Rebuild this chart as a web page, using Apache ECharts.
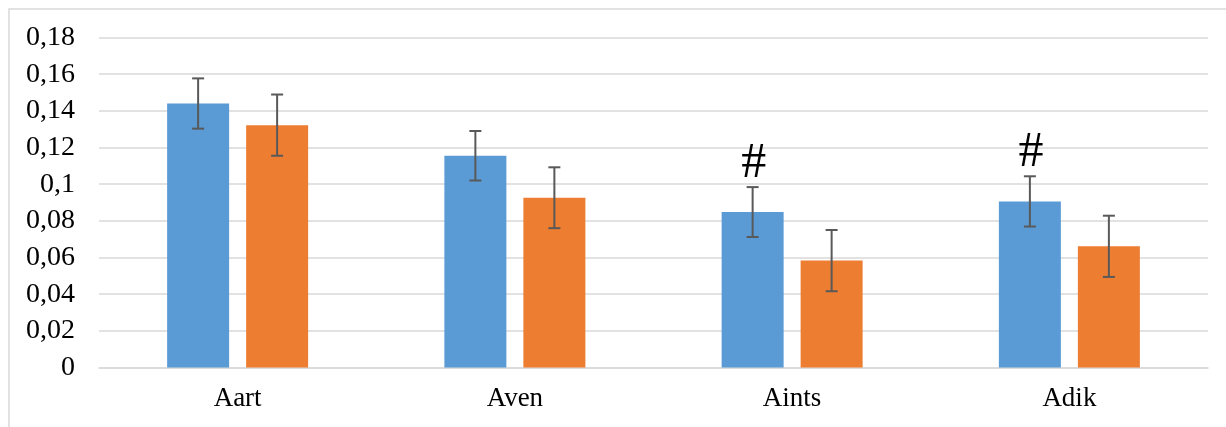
<!DOCTYPE html>
<html>
<head>
<meta charset="utf-8">
<script src="https://cdn.jsdelivr.net/npm/echarts@6/dist/echarts.min.js"></script>
<style>html,body{margin:0;padding:0;background:#fff}#c{width:1226px;height:427px}</style>
</head>
<body>
<div id="c"></div>
<script>
const categories = ['Aart', 'Aven', 'Aints', 'Adik'];
const seriesA = [0.144, 0.1155, 0.0848, 0.0906];
const seriesAErr = [0.0137, 0.0135, 0.0136, 0.0137];
const seriesB = [0.1322, 0.0926, 0.0583, 0.0661];
const seriesBErr = [0.0167, 0.0166, 0.0167, 0.0167];
const markersA = ['', '', '#', '#'];
const yTicks = { min: 0, max: 0.18, interval: 0.02 };

const FONT = '"Liberation Serif", "Times New Roman", serif';
const BAR_W = 62, BAR_GAP = 17;

const chart = echarts.init(document.getElementById('c'), null, { renderer: 'canvas' });

function errSeries(values, errs, markers, side) {
  return {
    type: 'custom',
    silent: true,
    z: 10,
    data: values.map((v, i) => [i, v, errs[i]]),
    renderItem: function (params, api) {
      const i = api.value(0), v = api.value(1), e = api.value(2);
      const off = side * (BAR_W + BAR_GAP) / 2;
      const top = api.coord([i, v + e]);
      const bot = api.coord([i, v - e]);
      const x = top[0] + off;
      const cap = 6;
      const st = { stroke: '#595959', lineWidth: 2 };
      const children = [
        { type: 'line', shape: { x1: x, y1: top[1], x2: x, y2: bot[1] }, style: st },
        { type: 'line', shape: { x1: x - cap, y1: top[1], x2: x + cap, y2: top[1] }, style: st },
        { type: 'line', shape: { x1: x - cap, y1: bot[1], x2: x + cap, y2: bot[1] }, style: st }
      ];
      const m = markers ? markers[params.dataIndex] : '';
      if (m) {
        children.push({
          type: 'text',
          style: { x: x + 1, y: top[1] + 2, text: m, fill: '#000', font: '50px ' + FONT, align: 'center', verticalAlign: 'bottom' }
        });
      }
      return { type: 'group', children };
    }
  };
}

chart.setOption({
  animation: false,
  backgroundColor: '#fff',
  graphic: [{
    type: 'rect', shape: { x: 9, y: 9, width: 1400, height: 600 },
    style: { fill: 'none', stroke: '#d9d9d9', lineWidth: 1.5 }, silent: true, z: -10
  }],
  grid: { left: 99, right: 18, top: 37.5, bottom: 59.5, containLabel: false },
  xAxis: {
    type: 'category',
    data: categories,
    axisLine: { show: true, lineStyle: { color: '#d9d9d9', width: 1.5 } },
    axisTick: { show: false },
    axisLabel: { color: '#000', fontFamily: FONT, fontSize: 27, margin: 18 }
  },
  yAxis: {
    type: 'value',
    min: yTicks.min, max: yTicks.max, interval: yTicks.interval,
    axisLine: { show: false },
    axisTick: { show: false },
    splitLine: { lineStyle: { color: '#d9d9d9', width: 1.5 } },
    axisLabel: {
      color: '#000', fontFamily: FONT, fontSize: 28, margin: 24,
      formatter: v => String(Number(v.toFixed(2))).replace('.', ',')
    }
  },
  series: [
    { type: 'bar', data: seriesA, barWidth: BAR_W, barGap: (BAR_GAP / BAR_W * 100) + '%', itemStyle: { color: '#5B9BD5' } },
    { type: 'bar', data: seriesB, barWidth: BAR_W, itemStyle: { color: '#ED7D31' } },
    errSeries(seriesA, seriesAErr, markersA, -1),
    errSeries(seriesB, seriesBErr, null, 1)
  ]
});
</script>
</body>
</html>
